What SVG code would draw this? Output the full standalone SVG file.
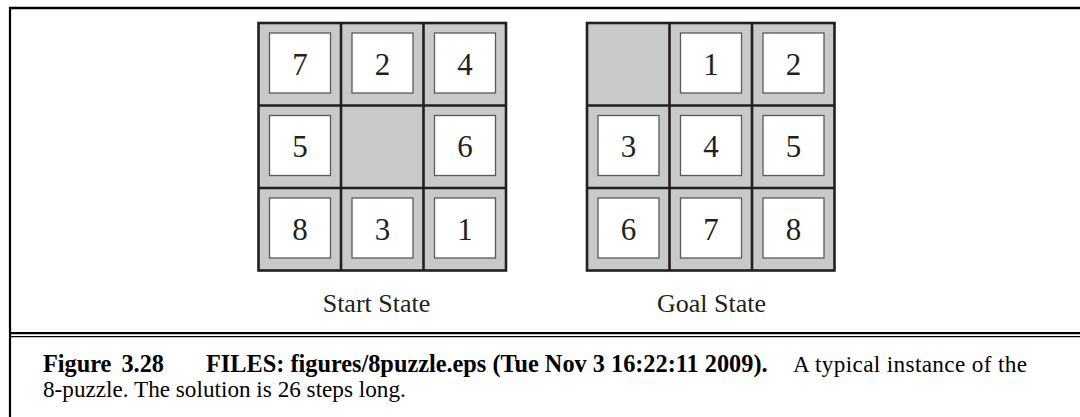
<svg xmlns="http://www.w3.org/2000/svg" width="1080" height="417" viewBox="0 0 1080 417">
<style>
.cellbg{fill:#c8c9cb;stroke:none}
.gl{stroke:#231f20;stroke-width:2.6;fill:none}
.tile{fill:#ffffff;stroke:#58595b;stroke-width:1.3}
.num{font-family:"Liberation Serif","Times New Roman",serif;font-size:31px;fill:#231f20;text-anchor:middle}
.lbl{font-family:"Liberation Serif","Times New Roman",serif;font-size:26px;fill:#231f20}
.cap{font-family:"Liberation Serif","Times New Roman",serif;font-size:23.2px;fill:#000}
.b{font-weight:bold;font-size:24.3px}
.frame{stroke:#000;fill:none}
</style>
<rect x="0" y="0" width="1080" height="417" fill="#fff"/>
<g id="frame">
<line class="frame" x1="9" y1="8" x2="1080" y2="8" stroke-width="2.4"/>
<line class="frame" x1="10" y1="7" x2="10" y2="417" stroke-width="2.2"/>
<line class="frame" x1="9" y1="333.2" x2="1080" y2="333.2" stroke-width="2.3"/>
<line class="frame" x1="9" y1="336.7" x2="1080" y2="336.7" stroke-width="1.3"/>
</g>
<g id="start-state">
<rect class="cellbg" x="258.5" y="23" width="247.5" height="247.5"/>
<g id="s-7"><rect class="tile" x="269.5" y="33" width="61" height="60"/><text class="num" x="300" y="74.5">7</text></g>
<g id="s-2"><rect class="tile" x="352" y="33" width="61" height="60"/><text class="num" x="382.5" y="74.5">2</text></g>
<g id="s-4"><rect class="tile" x="434.5" y="33" width="61" height="60"/><text class="num" x="465" y="74.5">4</text></g>
<g id="s-5"><rect class="tile" x="269.5" y="115.5" width="61" height="60"/><text class="num" x="300" y="157">5</text></g>
<g id="s-6"><rect class="tile" x="434.5" y="115.5" width="61" height="60"/><text class="num" x="465" y="157">6</text></g>
<g id="s-8"><rect class="tile" x="269.5" y="198" width="61" height="60"/><text class="num" x="300" y="239.5">8</text></g>
<g id="s-3"><rect class="tile" x="352" y="198" width="61" height="60"/><text class="num" x="382.5" y="239.5">3</text></g>
<g id="s-1"><rect class="tile" x="434.5" y="198" width="61" height="60"/><text class="num" x="465" y="239.5">1</text></g>
<rect class="gl" x="258.5" y="23" width="247.5" height="247.5"/>
<line class="gl" x1="341" y1="23" x2="341" y2="270.5"/>
<line class="gl" x1="423.5" y1="23" x2="423.5" y2="270.5"/>
<line class="gl" x1="258.5" y1="105.5" x2="506" y2="105.5"/>
<line class="gl" x1="258.5" y1="188" x2="506" y2="188"/>
<text class="lbl" x="322.7" y="312">Start State</text>
</g>
<g id="goal-state">
<rect class="cellbg" x="587" y="23" width="247.5" height="247.5"/>
<g id="g-1"><rect class="tile" x="680.5" y="33" width="61" height="60"/><text class="num" x="711" y="74.5">1</text></g>
<g id="g-2"><rect class="tile" x="763" y="33" width="61" height="60"/><text class="num" x="793.5" y="74.5">2</text></g>
<g id="g-3"><rect class="tile" x="598" y="115.5" width="61" height="60"/><text class="num" x="628.5" y="157">3</text></g>
<g id="g-4"><rect class="tile" x="680.5" y="115.5" width="61" height="60"/><text class="num" x="711" y="157">4</text></g>
<g id="g-5"><rect class="tile" x="763" y="115.5" width="61" height="60"/><text class="num" x="793.5" y="157">5</text></g>
<g id="g-6"><rect class="tile" x="598" y="198" width="61" height="60"/><text class="num" x="628.5" y="239.5">6</text></g>
<g id="g-7"><rect class="tile" x="680.5" y="198" width="61" height="60"/><text class="num" x="711" y="239.5">7</text></g>
<g id="g-8"><rect class="tile" x="763" y="198" width="61" height="60"/><text class="num" x="793.5" y="239.5">8</text></g>
<rect class="gl" x="587" y="23" width="247.5" height="247.5"/>
<line class="gl" x1="669.5" y1="23" x2="669.5" y2="270.5"/>
<line class="gl" x1="752" y1="23" x2="752" y2="270.5"/>
<line class="gl" x1="587" y1="105.5" x2="834.5" y2="105.5"/>
<line class="gl" x1="587" y1="188" x2="834.5" y2="188"/>
<text class="lbl" x="657" y="312">Goal State</text>
</g>
<g id="caption">
<text class="cap b" x="43" y="372" word-spacing="4">Figure 3.28</text>
<text class="cap b" x="206" y="372">FILES: figures/8puzzle.eps (Tue Nov 3 16:22:11 2009).</text>
<text class="cap" x="793" y="372" textLength="234" lengthAdjust="spacing">A typical instance of the</text>
<text class="cap" x="43" y="397">8-puzzle. The solution is 26 steps long.</text>
</g>
</svg>
